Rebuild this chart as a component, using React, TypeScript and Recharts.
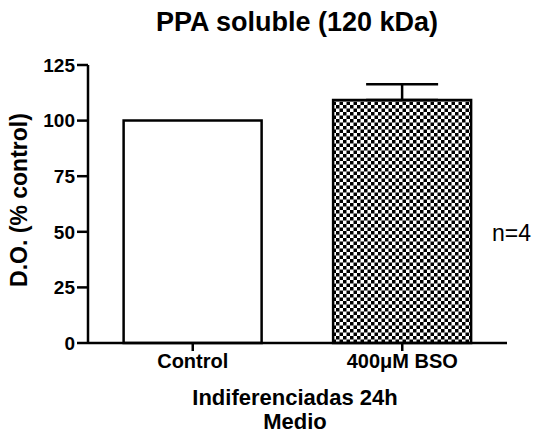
import { Bar, BarChart, Cell, ErrorBar, XAxis, YAxis } from 'recharts'

const CATEGORIES = ['Control', '400\u03BCM BSO']
const VALUES = [100, 109.3]
const ERRORS: ([number, number] | null)[] = [null, [0, 7]]
const Y_TICKS = [0, 25, 50, 75, 100, 125]
const FILLS = ['#ffffff', 'url(#checker)']

const data = CATEGORIES.map((name, i) => ({ name, value: VALUES[i], err: ERRORS[i] }))

const FONT = 'Arial, "Liberation Sans", Helvetica, sans-serif'

export default function App() {
  return (
    <div style={{ position: 'absolute', left: 0, top: 0, width: 537, height: 437, background: '#fff', fontFamily: FONT }}>
      <BarChart
        width={537}
        height={437}
        data={data}
        margin={{ top: 65, right: 30, bottom: 64, left: 0 }}
        barCategoryGap="17%"
      >
        <defs>
          <pattern id="checker" width={7} height={7} patternUnits="userSpaceOnUse">
            <rect x={0} y={0} width={7} height={7} fill="#ffffff" />
            <rect x={0} y={0} width={3.5} height={3.5} fill="#000000" />
            <rect x={3.5} y={3.5} width={3.5} height={3.5} fill="#000000" />
          </pattern>
        </defs>
        <XAxis
          dataKey="name"
          height={30}
          axisLine={{ stroke: '#000', strokeWidth: 2.5 }}
          tickLine={{ stroke: '#000', strokeWidth: 2.5 }}
          tickSize={8}
          tickMargin={3}
          tick={{ fill: '#000', fontSize: 20, fontWeight: 'bold', fontFamily: FONT }}
        />
        <YAxis
          width={88}
          domain={[0, 125]}
          ticks={Y_TICKS}
          interval={0}
          axisLine={{ stroke: '#000', strokeWidth: 2.5 }}
          tickLine={{ stroke: '#000', strokeWidth: 2.5 }}
          tickSize={11}
          tickMargin={2}
          tick={{ fill: '#000', fontSize: 19, fontWeight: 'bold', fontFamily: FONT }}
        />
        <Bar dataKey="value" stroke="#000" strokeWidth={2.5} isAnimationActive={false}>
          {data.map((d, i) => (
            <Cell key={d.name} fill={FILLS[i]} />
          ))}
          <ErrorBar dataKey="err" direction="y" width={36} stroke="#000" strokeWidth={2.5} />
        </Bar>
        <text x={297} y={31} textAnchor="middle" fontSize={27} fontWeight="bold" fontFamily={FONT} fill="#000">
          PPA soluble (120 kDa)
        </text>
        <text
          x={27}
          y={200}
          transform="rotate(-90 27 200)"
          textAnchor="middle"
          fontSize={23}
          fontWeight="bold"
          fontFamily={FONT}
          fill="#000"
        >
          D.O. (% control)
        </text>
        <text x={295} y={405} textAnchor="middle" fontSize={22} fontWeight="bold" fontFamily={FONT} fill="#000">
          Indiferenciadas 24h
        </text>
        <text x={295} y={429} textAnchor="middle" fontSize={22} fontWeight="bold" fontFamily={FONT} fill="#000">
          Medio
        </text>
        <text x={492} y={241} fontSize={23} fontFamily={FONT} fill="#000">
          n=4
        </text>
      </BarChart>
    </div>
  )
}
